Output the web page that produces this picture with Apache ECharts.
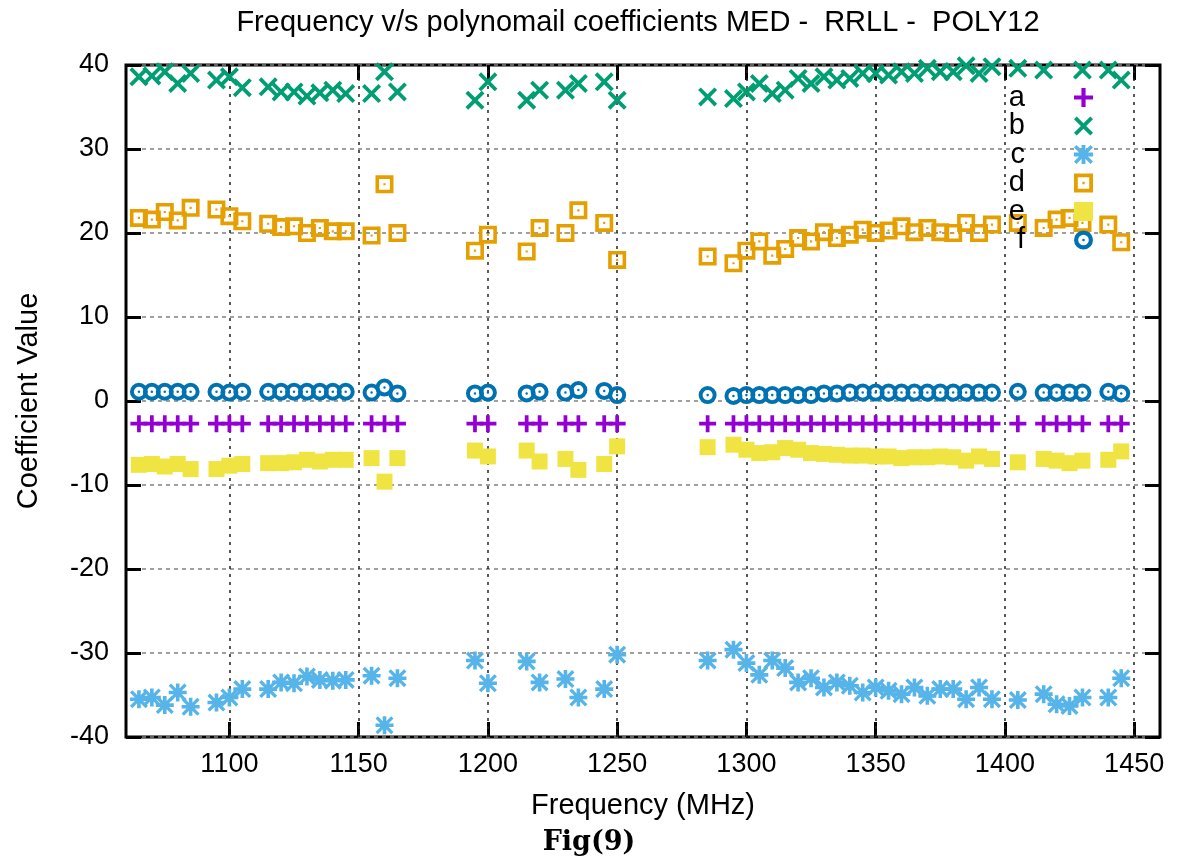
<!DOCTYPE html>
<html>
<head>
<meta charset="utf-8">
<script src="https://cdn.jsdelivr.net/npm/echarts@6/dist/echarts.min.js"></script>
<style>
html,body{margin:0;padding:0;background:#fff;}
#chart{width:1178px;height:861px;}
</style>
</head>
<body>
<div id="chart"></div>
<script>
// ---- data ----
var freqs = [1065,1070,1075,1080,1085, 1095,1100,1105, 1115,1120,1125,1130,1135,1140,1145,
  1155,1160,1165, 1195,1200, 1215,1220, 1230,1235, 1245,1250, 1285,
  1295,1300,1305,1310,1315,1320,1325,1330,1335,1340,1345,1350,1355,1360,1365,1370,1375,1380,1385,1390,1395,
  1405, 1415,1420,1425,1430, 1440,1445];

var seriesA = [-2.7,-2.7,-2.7,-2.7,-2.7, -2.7,-2.7,-2.7, -2.7,-2.7,-2.7,-2.7,-2.7,-2.7,-2.7,
  -2.7,-2.7,-2.7, -2.7,-2.7, -2.7,-2.7, -2.7,-2.7, -2.7,-2.7, -2.7,
  -2.7,-2.7,-2.7,-2.7,-2.7,-2.7,-2.7,-2.7,-2.7,-2.7,-2.7,-2.7,-2.7,-2.7,-2.7,-2.7,-2.7,-2.7,-2.7,-2.7,-2.7,
  -2.7, -2.7,-2.7,-2.7,-2.7, -2.7,-2.7];

var seriesB = [38.6,38.7,39.2,37.8,39.0, 38.2,38.6,37.3, 37.4,36.8,36.8,36.3,36.7,37.0,36.6,
  36.6,39.2,36.8, 35.8,38.0, 35.8,37.0, 37.0,37.8, 38.0,35.8, 36.2,
  36.0,36.8,37.8,36.6,37.0,38.4,37.8,38.6,38.2,38.4,39.0,39.0,38.8,39.2,39.0,39.6,39.2,39.2,39.9,39.0,39.8,
  39.6, 39.4,41.2,41.2,39.4, 39.4,38.2];

var seriesC = [-35.5,-35.3,-36.2,-34.7,-36.4, -35.9,-35.3,-34.3, -34.3,-33.5,-33.6,-32.8,-33.2,-33.3,-33.2,
  -32.7,-38.6,-33.0, -30.9,-33.6, -31.0,-33.5, -33.1,-35.3, -34.3,-30.2, -30.9,
  -29.6,-31.2,-32.6,-30.9,-31.8,-33.5,-33.0,-34.1,-33.5,-33.9,-34.7,-34.1,-34.5,-34.9,-34.1,-35.1,-34.3,-34.3,-35.5,-34.1,-35.5,
  -35.6, -34.9,-36.1,-36.3,-35.3, -35.3,-33.0];

var seriesD = [21.8,21.6,22.5,21.5,23.0, 22.8,22.0,21.4, 21.1,20.7,20.8,20.0,20.6,20.2,20.2,
  19.7,25.8,20.0, 17.9,19.8, 17.8,20.6, 20.0,22.7, 21.2,16.8, 17.2,
  16.4,17.9,19.0,17.3,18.1,19.4,19.0,20.1,19.4,19.8,20.4,20.0,20.3,20.8,20.1,20.6,20.1,20.0,21.2,20.0,21.0,
  21.2, 20.6,21.6,21.8,21.2, 21.0,18.9];

var seriesE = [-7.6,-7.5,-7.8,-7.5,-8.1, -8.1,-7.7,-7.5, -7.4,-7.4,-7.3,-7.0,-7.2,-7.0,-7.0,
  -6.8,-9.6,-6.8, -5.9,-6.6, -5.9,-7.2, -6.9,-8.2, -7.5,-5.4, -5.5,
  -5.2,-5.8,-6.2,-6.1,-5.6,-5.8,-6.2,-6.3,-6.4,-6.5,-6.5,-6.6,-6.6,-6.8,-6.7,-6.7,-6.6,-6.7,-7.1,-6.6,-6.9,
  -7.3, -6.9,-7.1,-7.4,-7.1, -7.0,-6.0];

var seriesF = [1.1,1.1,1.1,1.1,1.1, 1.1,1.0,1.1, 1.1,1.1,1.1,1.1,1.1,1.1,1.1,
  1.0,1.6,0.9, 0.9,1.0, 0.9,1.1, 1.0,1.3, 1.2,0.7, 0.7,
  0.6,0.7,0.7,0.7,0.7,0.7,0.7,0.9,0.9,1.0,1.0,1.0,1.0,1.0,1.0,1.0,1.0,1.0,1.0,1.0,1.0,
  1.1, 1.0,1.0,1.0,1.0, 1.1,0.9];

var seriesNames = ['a','b','c','d','e','f'];
var xTicks = [1100,1150,1200,1250,1300,1350,1400,1450];

// ---- styles ----
var colors = ['#9400d3','#009e73','#56b4e9','#e69f00','#f0e442','#0072b2'];
var symPlus = 'path://M39,0 H61 V39 H100 V61 H61 V100 H39 V61 H0 V39 H39 Z';
var symX = 'path://M0,14 L14,0 L50,36 L86,0 L100,14 L64,50 L100,86 L86,100 L50,64 L14,100 L0,86 L36,50 Z';
var symStar = 'path://M40,0 H60 V40 H100 V60 H60 V100 H40 V60 H0 V40 H40 Z M0,13 L13,0 L50,37 L87,0 L100,13 L63,50 L100,87 L87,100 L50,63 L13,100 L0,87 L37,50 Z';
var symSq = 'path://M0,0 H100 V100 H0 Z M20,20 V80 H80 V20 Z M44,44 H56 V56 H44 Z';
var symCirc = 'path://M0,50 A50,50 0 1,1 100,50 A50,50 0 1,1 0,50 Z M22,50 A28,28 0 1,0 78,50 A28,28 0 1,0 22,50 Z M43,50 A7,7 0 1,1 57,50 A7,7 0 1,1 43,50 Z';
var symbols = [symPlus, symX, symStar, symSq, 'rect', symCirc];
var sizes = [17, 19, 18, 18, 16, 18];
var allValues = [seriesA, seriesB, seriesC, seriesD, seriesE, seriesF];

var FONT = '"Liberation Sans", Arial, Helvetica, sans-serif';

var series = seriesNames.map(function (name, k) {
  var s = {
    name: name,
    type: 'scatter',
    xAxisIndex: 0,
    yAxisIndex: 0,
    symbol: symbols[k],
    symbolSize: sizes[k],
    itemStyle: { color: colors[k], opacity: 1 },
    emphasis: { disabled: true },
    z: 3,
    data: freqs.map(function (f, i) { return [f, allValues[k][i]]; })
  };
  if (k === 0) {
    s.markLine = {
      z: 1,
      silent: true,
      symbol: ['none', 'none'],
      label: { show: false },
      lineStyle: { color: '#222', width: 1.5, type: [3, 5] },
      emphasis: { disabled: true },
      data: xTicks.map(function (v) { return { xAxis: v }; })
    };
  }
  return s;
});

var chart = echarts.init(document.getElementById('chart'), null, { renderer: 'canvas' });
chart.setOption({
  animation: false,
  backgroundColor: '#fff',
  textStyle: { fontFamily: FONT },
  grid: {
    left: 126, right: 18, top: 65, bottom: 124,
    show: true, borderColor: '#000', borderWidth: 3, backgroundColor: 'transparent'
  },
  graphic: [
    { type: 'text', x: 638, y: 23, style: {
      text: 'Frequency v/s polynomail coefficients MED -  RRLL -  POLY12',
      font: '29px ' + FONT, fill: '#000', align: 'center', verticalAlign: 'middle' } },
    { type: 'text', x: 589, y: 843, style: {
      text: 'Fig(9)', font: 'bold 27px "DejaVu Serif", "Liberation Serif", serif', fill: '#000',
      align: 'center', verticalAlign: 'middle' } }
  ],
  legend: {
    data: seriesNames,
    orient: 'vertical',
    right: 80,
    top: 78,
    align: 'right',
    itemWidth: 19,
    itemHeight: 19,
    itemGap: -0.5,
    selectedMode: false,
    textStyle: { fontSize: 29, color: '#000', fontFamily: FONT, padding: [0, 44, 0, 0] }
  },
  xAxis: [{
    type: 'value',
    position: 'bottom',
    min: 1060, max: 1460,
    axisLine: { show: false, onZero: false },
    axisTick: { show: true, inside: true, length: 15, customValues: xTicks, lineStyle: { color: '#000', width: 3 } },
    axisLabel: { show: true, customValues: xTicks, fontSize: 27, color: '#000', margin: 14, fontFamily: FONT,
      formatter: function (v) { return String(v); } },
    splitLine: { show: false },
    name: 'Frequency (MHz)',
    nameLocation: 'middle',
    nameGap: 54,
    nameTextStyle: { fontSize: 29, color: '#000', fontFamily: FONT }
  }, {
    type: 'value',
    position: 'top',
    min: 1060, max: 1460,
    axisLine: { show: false, onZero: false },
    axisTick: { show: true, inside: true, length: 15, customValues: xTicks, lineStyle: { color: '#000', width: 3 } },
    axisLabel: { show: false },
    splitLine: { show: false }
  }],
  yAxis: [{
    type: 'value',
    position: 'left',
    min: -40, max: 40, interval: 10,
    axisLine: { show: false, onZero: false },
    axisTick: { show: true, inside: true, length: 15, lineStyle: { color: '#000', width: 3 } },
    axisLabel: { fontSize: 27, color: '#000', margin: 17, fontFamily: FONT },
    splitLine: { show: true, lineStyle: { color: '#808080', width: 1.5, type: [4, 4] } },
    name: 'Coefficient Value',
    nameLocation: 'middle',
    nameGap: 83,
    nameTextStyle: { fontSize: 29, color: '#000', fontFamily: FONT }
  }, {
    type: 'value',
    position: 'right',
    min: -40, max: 40, interval: 10,
    axisLine: { show: false, onZero: false },
    axisTick: { show: true, inside: true, length: 15, lineStyle: { color: '#000', width: 3 } },
    axisLabel: { show: false },
    splitLine: { show: false }
  }],
  series: series
});
</script>
</body>
</html>
